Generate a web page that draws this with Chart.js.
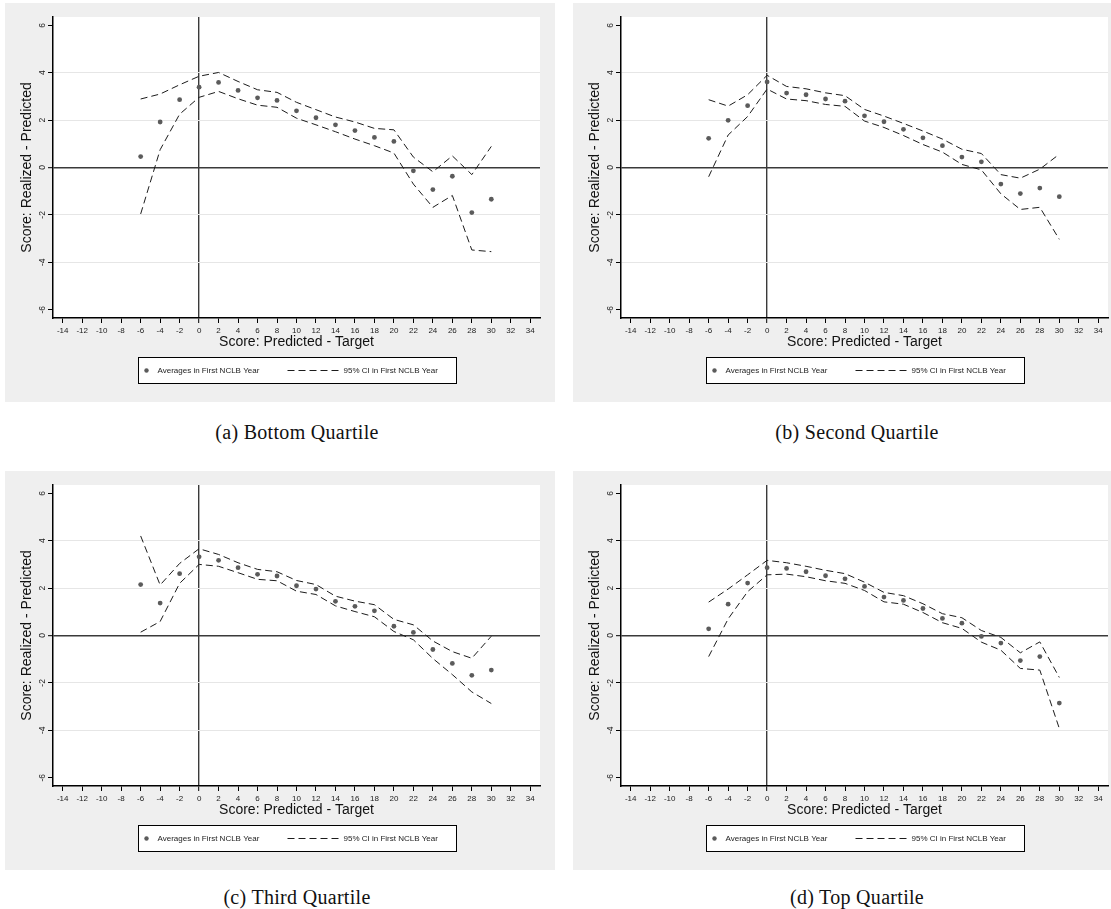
<!DOCTYPE html>
<html>
<head>
<meta charset="utf-8">
<script src="https://cdn.jsdelivr.net/npm/chart.js@4.4.1/dist/chart.umd.min.js"></script>
<style>
  html, body { margin: 0; padding: 0; background: #ffffff; }
  body { width: 1111px; height: 909px; position: relative; overflow: hidden; }
  .panel { position: absolute; width: 550px; height: 399px; background: #efefef; }
  .panel canvas { display: block; }
  .caption {
    position: absolute; transform: translate(-50%, -50%);
    font-family: "Liberation Serif", "DejaVu Serif", serif; font-size: 20px;
    letter-spacing: 0.3px; color: #111; white-space: nowrap;
  }
</style>
</head>
<body>
<div class="panel" style="left:5px;top:3px"><canvas id="c0" width="550" height="399"></canvas></div>
<div class="panel" style="left:573px;top:3px"><canvas id="c1" width="550" height="399"></canvas></div>
<div class="panel" style="left:5px;top:471px"><canvas id="c2" width="550" height="399"></canvas></div>
<div class="panel" style="left:573px;top:471px"><canvas id="c3" width="550" height="399"></canvas></div>
<div class="caption" style="left:297px;top:432px">(a) Bottom Quartile</div>
<div class="caption" style="left:857px;top:432px">(b) Second Quartile</div>
<div class="caption" style="left:297px;top:897px">(c) Third Quartile</div>
<div class="caption" style="left:857px;top:897px">(d) Top Quartile</div>
<script>
// Bins of predicted minus target score
const scoreBins = [-6, -4, -2, 0, 2, 4, 6, 8, 10, 12, 14, 16, 18, 20, 22, 24, 26, 28, 30];
const xTicks = [-14, -12, -10, -8, -6, -4, -2, 0, 2, 4, 6, 8, 10, 12, 14, 16, 18, 20, 22, 24, 26, 28, 30, 32, 34];
const yTicks = [-6, -4, -2, 0, 2, 4, 6];

// Bottom quartile
const bottomAvg   = [0.46, 1.92, 2.86, 3.39, 3.59, 3.25, 2.94, 2.83, 2.39, 2.10, 1.80, 1.56, 1.27, 1.10, -0.14, -0.93, -0.37, -1.90, -1.34];
const bottomUpper = [2.89, 3.10, 3.49, 3.85, 4.01, 3.63, 3.28, 3.17, 2.75, 2.44, 2.13, 1.92, 1.65, 1.59, 0.44, -0.18, 0.49, -0.30, 0.89];
const bottomLower = [-1.96, 0.75, 2.25, 2.96, 3.21, 2.90, 2.63, 2.54, 2.08, 1.80, 1.51, 1.20, 0.92, 0.61, -0.70, -1.68, -1.18, -3.48, -3.55];

// Second quartile
const secondAvg   = [1.23, 1.99, 2.61, 3.61, 3.14, 3.07, 2.89, 2.80, 2.18, 1.93, 1.61, 1.25, 0.92, 0.44, 0.24, -0.70, -1.10, -0.87, -1.23];
const secondUpper = [2.86, 2.59, 3.07, 3.89, 3.42, 3.32, 3.15, 3.03, 2.45, 2.17, 1.86, 1.54, 1.20, 0.77, 0.59, -0.30, -0.45, -0.07, 0.56];
const secondLower = [-0.39, 1.37, 2.15, 3.31, 2.89, 2.82, 2.66, 2.58, 1.96, 1.69, 1.35, 0.97, 0.65, 0.13, -0.10, -1.11, -1.77, -1.68, -3.03];

// Third quartile
const thirdAvg   = [2.15, 1.37, 2.61, 3.32, 3.17, 2.86, 2.58, 2.51, 2.10, 1.96, 1.44, 1.23, 1.04, 0.39, 0.13, -0.59, -1.18, -1.68, -1.46];
const thirdUpper = [4.20, 2.13, 3.04, 3.66, 3.42, 3.07, 2.79, 2.69, 2.32, 2.15, 1.66, 1.45, 1.30, 0.68, 0.45, -0.23, -0.68, -0.96, -0.03];
const thirdLower = [0.14, 0.59, 2.20, 3.00, 2.92, 2.65, 2.37, 2.31, 1.87, 1.73, 1.25, 1.01, 0.79, 0.17, -0.18, -0.97, -1.65, -2.38, -2.87];

// Top quartile
const topAvg   = [0.28, 1.32, 2.21, 2.86, 2.83, 2.69, 2.52, 2.39, 2.07, 1.62, 1.48, 1.14, 0.72, 0.52, -0.04, -0.32, -1.06, -0.89, -2.85];
const topUpper = [1.41, 1.96, 2.56, 3.17, 3.07, 2.92, 2.75, 2.61, 2.25, 1.82, 1.68, 1.34, 0.92, 0.75, 0.21, -0.08, -0.73, -0.27, -1.77];
const topLower = [-0.89, 0.70, 1.85, 2.56, 2.59, 2.48, 2.31, 2.20, 1.90, 1.42, 1.32, 0.97, 0.54, 0.30, -0.28, -0.62, -1.39, -1.46, -3.92];

const avgLabel = "Averages in First NCLB Year";
const ciLabel = "95% CI in First NCLB Year";
const xTitle = "Score: Predicted - Target";
const yTitle = "Score: Realized - Predicted";

const panels = [
  { id: "c0", avg: bottomAvg, upper: bottomUpper, lower: bottomLower },
  { id: "c1", avg: secondAvg, upper: secondUpper, lower: secondLower },
  { id: "c2", avg: thirdAvg, upper: thirdUpper, lower: thirdLower },
  { id: "c3", avg: topAvg, upper: topUpper, lower: topLower }
];

const FONT = "'Liberation Sans', Arial, Helvetica, sans-serif";
const DOT_COLOR = "#5b5b5b";
const LINE_COLOR = "#1c1c1c";
const DASH = [7, 4];

const toPoints = (vals) => scoreBins.map((x, i) => ({ x: x, y: vals[i] }));

// White plot region inside the grey graph region
const plotBackground = {
  id: "plotBackground",
  beforeDraw(chart) {
    const { ctx, chartArea: a } = chart;
    ctx.save();
    ctx.fillStyle = "#ffffff";
    ctx.fillRect(a.left, a.top, a.right - a.left, a.bottom - a.top);
    ctx.restore();
  }
};

// Boxed legend below the x-axis title
const boxedLegend = {
  id: "boxedLegend",
  afterDraw(chart) {
    const { ctx, chartArea: a } = chart;
    const w = 318, h = 26;
    const left = Math.round((a.left + a.right) / 2 - w / 2 + 0.5) + 0.5;
    const top = a.bottom + 39.5;
    const cy = top + h / 2;
    ctx.save();
    ctx.fillStyle = "#ffffff";
    ctx.fillRect(left, top, w, h);
    ctx.strokeStyle = "#000000";
    ctx.lineWidth = 1;
    ctx.strokeRect(left, top, w, h);

    const dots = chart.data.datasets[0];
    ctx.fillStyle = dots.backgroundColor;
    ctx.beginPath();
    ctx.arc(left + 8, cy, 2.2, 0, Math.PI * 2);
    ctx.fill();

    ctx.font = "8px " + FONT;
    ctx.fillStyle = "#222";
    ctx.textBaseline = "middle";
    ctx.textAlign = "left";
    ctx.fillText(dots.label, left + 19, cy);

    const ci = chart.data.datasets[1];
    ctx.strokeStyle = ci.borderColor;
    ctx.lineWidth = ci.borderWidth;
    ctx.setLineDash(ci.borderDash);
    ctx.beginPath();
    ctx.moveTo(left + 149, cy);
    ctx.lineTo(left + 201, cy);
    ctx.stroke();
    ctx.setLineDash([]);
    ctx.fillText(ci.label, left + 205, cy);
    ctx.restore();
  }
};

function makeChart(p) {
  const ctx = document.getElementById(p.id).getContext("2d");
  return new Chart(ctx, {
    type: "line",
    data: {
      datasets: [
        {
          label: avgLabel, data: toPoints(p.avg), showLine: false,
          pointRadius: 2.4, pointBackgroundColor: DOT_COLOR, backgroundColor: DOT_COLOR,
          pointBorderWidth: 0, pointHoverRadius: 2.4
        },
        {
          label: ciLabel, data: toPoints(p.upper), borderColor: LINE_COLOR,
          borderWidth: 1, borderDash: DASH, pointRadius: 0, tension: 0, fill: false
        },
        {
          label: ciLabel, data: toPoints(p.lower), borderColor: LINE_COLOR,
          borderWidth: 1, borderDash: DASH, pointRadius: 0, tension: 0, fill: false
        }
      ]
    },
    options: {
      responsive: false,
      animation: false,
      devicePixelRatio: 1,
      layout: { padding: { left: 0, right: 15, top: 14, bottom: 44 } },
      plugins: { legend: { display: false }, tooltip: { enabled: false } },
      scales: {
        x: {
          type: "linear", min: -15, max: 35,
          afterBuildTicks: (s) => { s.ticks = xTicks.map(v => ({ value: v })); },
          afterFit: (s) => { s.height = 40; },
          border: { display: true, color: "#000", width: 1.5 },
          grid: {
            drawOnChartArea: true, drawTicks: true, tickLength: 5, tickWidth: 1, tickColor: "#000",
            color: (c) => (c.tick && c.tick.value === 0) ? "#3a3a3a" : "rgba(0,0,0,0)",
            lineWidth: (c) => (c.tick && c.tick.value === 0) ? 1.4 : 1
          },
          ticks: {
            autoSkip: false, maxRotation: 0, minRotation: 0, padding: 3,
            color: "#222", font: { family: FONT, size: 8 },
            callback: (v) => String(v)
          },
          title: {
            display: true, text: xTitle, color: "#111",
            font: { family: FONT, size: 14 }, padding: { top: 0, bottom: 7.6 }
          }
        },
        y: {
          type: "linear", min: -6.35, max: 6.35,
          afterBuildTicks: (s) => { s.ticks = yTicks.map(v => ({ value: v })); },
          afterFit: (s) => { s.width = 48; },
          border: { display: true, color: "#000", width: 1.5 },
          grid: {
            drawOnChartArea: true, drawTicks: true, tickLength: 5, tickWidth: 1, tickColor: "#000",
            color: (c) => {
              const v = c.tick ? c.tick.value : null;
              if (v === 0) return "#3a3a3a";
              if (v === 6 || v === -6) return "rgba(0,0,0,0)";
              return "#e6e6e6";
            },
            lineWidth: (c) => (c.tick && c.tick.value === 0) ? 1.4 : 1
          },
          ticks: {
            autoSkip: false, minRotation: 90, maxRotation: 90, crossAlign: "center", padding: 2,
            color: "#222", font: { family: FONT, size: 8.5 },
            callback: (v) => String(v)
          },
          title: {
            display: true, text: yTitle, color: "#111",
            font: { family: FONT, size: 14 }, padding: { top: 13.6, bottom: 0 }
          }
        }
      }
    },
    plugins: [plotBackground, boxedLegend]
  });
}

panels.forEach(makeChart);
</script>
</body>
</html>
